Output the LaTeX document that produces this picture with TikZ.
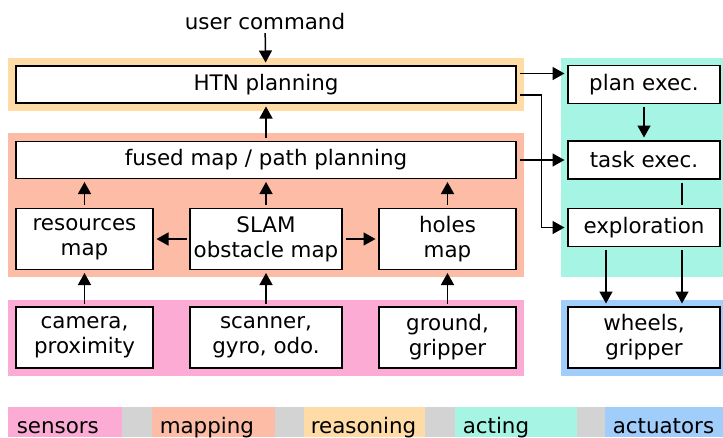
\documentclass[tikz,border=0pt]{standalone}
\usepackage{fontspec}
\setmainfont{DejaVu Sans}
\usetikzlibrary{arrows.meta}

\definecolor{sensorcol}{RGB}{252,172,212}
\definecolor{mapcol}{RGB}{252,188,166}
\definecolor{reasoncol}{RGB}{255,220,166}
\definecolor{actcol}{RGB}{166,245,228}
\definecolor{actuatorcol}{RGB}{160,205,250}
\definecolor{gapcol}{RGB}{211,211,211}

\tikzset{
  >={Triangle[length=12pt,width=13pt]},
  box/.style={draw,fill=white,line width=1.8pt,inner sep=0pt,outer sep=3.5pt,align=center},
  wide/.style={box,minimum width=500pt,minimum height=37pt},
  small/.style={box,minimum width=137pt,minimum height=61pt},
  mid/.style={box,minimum width=152pt,minimum height=61pt},
  act/.style={box,minimum width=152pt,minimum height=38pt},
  legend/.style={anchor=base west,inner sep=0pt}
}

\begin{document}
\begin{tikzpicture}[x=1pt,y=-1pt,font=\fontsize{21.4}{25}\selectfont,line width=1.5pt]
  \useasboundingbox (0,0) rectangle (723,437);

  % layers
  \fill[reasoncol] (8,58) rectangle (524,111);
  \fill[mapcol] (8,133) rectangle (524,277);
  \fill[sensorcol] (8,300) rectangle (524,376);
  \fill[actcol] (561,58) rectangle (723,277);
  \fill[actuatorcol] (561,300) rectangle (723,376);

  \node[inner sep=2pt] (ucmd) at (265,22) {user command};

  \node[wide] (htn) at (266,84.5) {HTN planning};
  \node[wide] (fused) at (266,160) {fused map / path planning};

  \node[small] (res) at (84.5,239) {resources\\map};
  \node[mid] (slam) at (266,239) {SLAM\\obstacle map};
  \node[small] (holes) at (447.5,239) {holes\\map};

  \node[small] (cam) at (84.5,337.5) {camera,\\proximity};
  \node[mid] (scan) at (266,337.5) {scanner,\\gyro, odo.};
  \node[small] (ground) at (447.5,337.5) {ground,\\gripper};

  \node[act] (plan) at (644,84.5) {plan exec.};
  \node[act] (task) at (644,160) {task exec.};
  \node[act] (explo) at (644,227.5) {exploration};
  \node[mid] (wheels) at (644,337.5) {wheels,\\gripper};

  \draw[->] (ucmd) -- (htn);
  \draw[->] (fused) -- (htn);

  \draw[->] (res) -- (res |- fused.south);
  \draw[->] (slam) -- (fused);
  \draw[->] (holes) -- (holes |- fused.south);
  \draw[->] (slam) -- (res);
  \draw[->] (slam) -- (holes);

  \draw[->] (cam) -- (res);
  \draw[->] (scan) -- (slam);
  \draw[->] (ground) -- (holes);

  \draw[->] ([yshift=11pt]htn.east) -- ([yshift=11pt]htn.east -| plan.west);
  \draw[->] ([yshift=-10.5pt]htn.east) -- ++(22,0) |- (explo.west);
  \draw[->] (fused) -- (task);
  \draw[->] (plan) -- (task);
  \draw ([xshift=38pt]task.south) -- ([xshift=38pt]explo.north);
  \draw[->] ([xshift=-38pt]explo.south) -- ([xshift=-38pt]wheels.north);
  \draw[->] ([xshift=38pt]explo.south) -- ([xshift=38pt]wheels.north);

  % legend
  \fill[gapcol] (8,407) rectangle (723,437);
  \fill[sensorcol] (8,407) rectangle (122,437);
  \fill[mapcol] (152,407) rectangle (275,437);
  \fill[reasoncol] (304,407) rectangle (425,437);
  \fill[actcol] (455,407) rectangle (577,437);
  \fill[actuatorcol] (605,407) rectangle (723,437);
  \node[legend] (lsens) at (16,433) {sensors};
  \node[legend] (lmap) at (159,433) {mapping};
  \node[legend] (lreas) at (310,433) {reasoning};
  \node[legend] (lact) at (462,433) {acting};
  \node[legend] (lactu) at (612,433) {actuators};
\end{tikzpicture}
\end{document}
